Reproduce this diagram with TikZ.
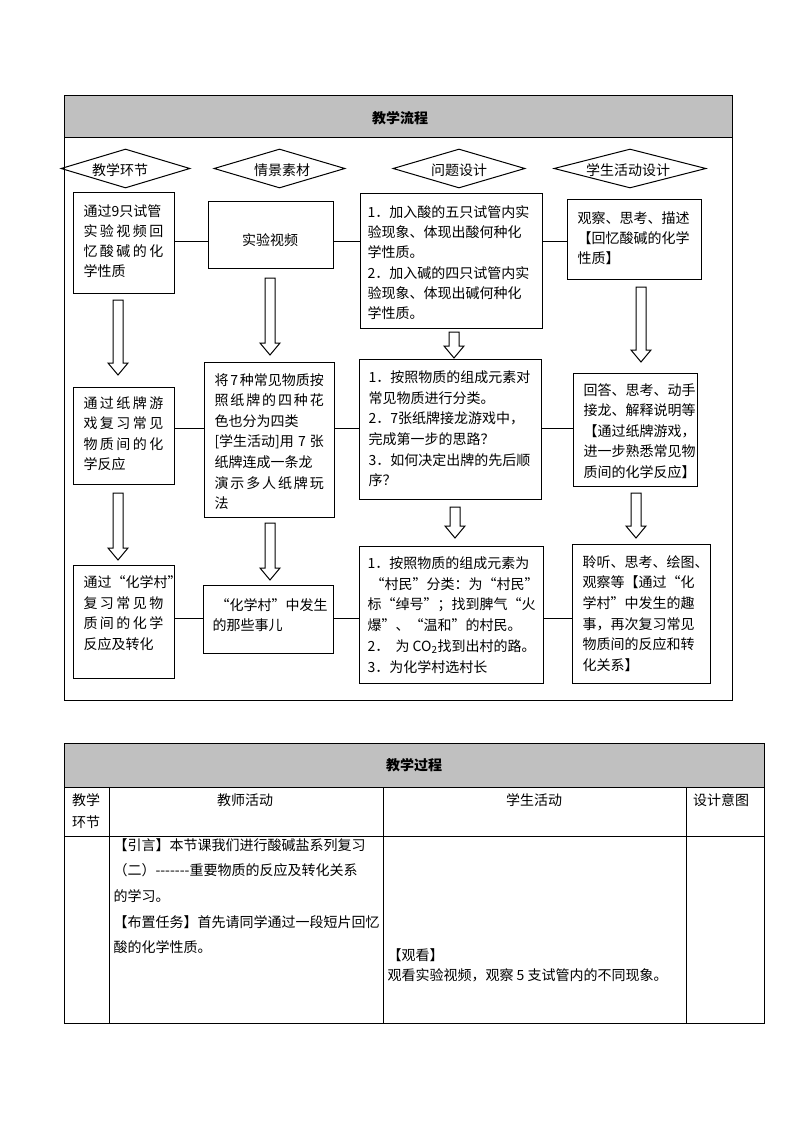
\documentclass[tikz,border=0pt]{standalone}
\usepackage{fontspec}
\setmainfont{Noto Sans CJK SC}[Ligatures=TeXOff]
\usetikzlibrary{fit,shapes.geometric}
\definecolor{hdr}{RGB}{192,192,192}
\newcommand\gp{\hfill}
\newcommand\harrow[3]{\draw[line join=miter] ({#1-5},#2) -- ({#1+5},#2) -- ({#1+5},{#3-12}) -- ({#1+10},{#3-12}) -- (#1,#3) -- ({#1-10},{#3-12}) -- ({#1-5},{#3-12}) -- cycle;}
\begin{document}
\begin{tikzpicture}[x=0.75pt,y=-0.75pt,line width=0.75pt,
  box/.style={draw,inner sep=0pt},
  txt/.style={inner sep=0pt,align=left,anchor=north west,font=\fontsize{10.5pt}{15.3pt}\selectfont},
  ctxt/.style={inner sep=0pt,align=center,font=\fontsize{10.5pt}{15.3pt}\selectfont},
  ttl/.style={inner sep=0pt,font=\fontsize{10.5pt}{13pt}\selectfont\bfseries},
  dia/.style={draw,diamond,inner sep=0pt,minimum height=29.25pt}]
\useasboundingbox (0,0) rectangle (794,1123);
% ---------- top frame ----------
\fill[hdr] (64,96) rectangle (732,138);
\draw (64,96) rectangle (732,700);
\draw (64,138) -- (732,138);
\node[ttl] (t1) at (400,118) {教学流程};
% diamonds
\node[dia,minimum width=96.75pt] (h1) at (125.5,168.5) {};
\node[dia,minimum width=98.25pt] (h2) at (279.5,168.5) {};
\node[dia,minimum width=99pt] (h3) at (459,168.5) {};
\node[dia,minimum width=114pt] (h4) at (630,168.5) {};
\node[ctxt] (h1t) at (120,170) {教学环节};
\node[ctxt] (h2t) at (282,170) {情景素材};
\node[ctxt] (h3t) at (459,170) {问题设计};
\node[ctxt] (h4t) at (628,170) {学生活动设计};
% row 1
\node[box,fit={(73,193) (174,293)}] (a1) {};
\node[box,fit={(208,202) (333,268)}] (b1) {};
\node[box,fit={(360,194) (542,328)}] (c1) {};
\node[box,fit={(567,200) (701,279)}] (d1) {};
\node[txt,font=\fontsize{10.5pt}{15pt}\selectfont] (a1t) at (83,204) {通过9只试管\\\makebox[60pt][s]{实\gp 验\gp 视\gp 频\gp 回}\\\makebox[60pt][s]{忆\gp 酸\gp 碱\gp 的\gp 化}\\学性质};
\node[ctxt] (b1t) at (270,240) {实验视频};
\node[txt,font=\fontsize{10.5pt}{15.2pt}\selectfont] (c1t) at (367,205) {1．加入酸的五只试管内实\\验现象、体现出酸何种化\\学性质。\\2．加入碱的四只试管内实\\验现象、体现出碱何种化\\学性质。};
\node[txt,font=\fontsize{10.5pt}{15pt}\selectfont] (d1t) at (577,211) {观察、思考、描述\\【回忆酸碱的化学\\性质】};
\coordinate (r1) at (0,241);
\draw (a1.east |- r1) -- (b1.west |- r1);
\draw (b1.east |- r1) -- (c1.west |- r1);
\draw (c1.east |- r1) -- (d1.west |- r1);
% arrows row1 -> row2
\harrow{118}{300}{375}
\harrow{270}{278}{355}
\harrow{454}{332}{358}
\harrow{641}{287}{362}
% row 2
\node[box,fit={(73,387) (174,484)}] (a2) {};
\node[box,fit={(204,362) (334,517)}] (b2) {};
\node[box,fit={(359,359) (541,499)}] (c2) {};
\node[box,fit={(573,373) (697,486)}] (d2) {};
\node[txt,font=\fontsize{10.5pt}{15.4pt}\selectfont] (a2t) at (83,396) {\makebox[60pt][s]{通\gp 过\gp 纸\gp 牌\gp 游}\\\makebox[60pt][s]{戏\gp 复\gp 习\gp 常\gp 见}\\\makebox[60pt][s]{物\gp 质\gp 间\gp 的\gp 化}\\学反应};
\node[txt,font=\fontsize{10.5pt}{15.4pt}\selectfont] (b2t) at (214,373) {\makebox[82pt][s]{将\gp 7\gp 种常见物质按}\\\makebox[82pt][s]{照\gp 纸\gp 牌\gp 的\gp 四\gp 种\gp 花}\\色也分为四类\\\makebox[82pt][s]{[学生活动]用\gp 7\gp 张}\\纸牌连成一条龙\\\makebox[82pt][s]{演\gp 示\gp 多\gp 人\gp 纸\gp 牌\gp 玩}\\法};
\node[txt,font=\fontsize{10.5pt}{15.5pt}\selectfont] (c2t) at (368,370) {1．按照物质的组成元素对\\常见物质进行分类。\\2．7张纸牌接龙游戏中，\\完成第一步的思路？\\3．如何决定出牌的先后顺\\序？};
\node[txt,font=\fontsize{10.5pt}{15.4pt}\selectfont] (d2t) at (583,383) {回答、思考、动手\\接龙、解释说明等\\【通过纸牌游戏，\\进一步熟悉常见物\\质间的化学反应】};
\coordinate (r2) at (0,428);
\draw (a2.east |- r2) -- (b2.west |- r2);
\draw (b2.east |- r2) -- (c2.west |- r2);
\draw (c2.east |- r2) -- (d2.west |- r2);
% arrows row2 -> row3
\harrow{118}{493}{560}
\harrow{270}{523}{580}
\harrow{455}{507}{538}
\harrow{636}{493}{538}
% row 3
\node[box,fit={(73,565) (174,678)}] (a3) {};
\node[box,fit={(203,585) (333,653)}] (b3) {};
\node[box,fit={(359,546) (543,683)}] (c3) {};
\node[box,fit={(572,544) (710,683)}] (d3) {};
\node[txt,font=\fontsize{10.5pt}{15.5pt}\selectfont] (a3t) at (83,575) {通过“化学村”\\\makebox[60pt][s]{复\gp 习\gp 常\gp 见\gp 物}\\\makebox[60pt][s]{质\gp 间\gp 的\gp 化\gp 学}\\反应及转化};
\node[txt,font=\fontsize{10.5pt}{15pt}\selectfont] (b3t) at (212,598) {~“化学村”中发生\\的那些事儿};
\node[txt,font=\fontsize{10.5pt}{15.6pt}\selectfont] (c3t) at (367,556) {1．按照物质的组成元素为\\~“村民”分类：为“村民”\\标“绰号”；找到脾气“火\\爆”、“温和”的村民。\\2．~~为 CO\textsubscript{2}找到出村的路。\\3．为化学村选村长};
\node[txt,font=\fontsize{10.5pt}{15.5pt}\selectfont] (d3t) at (582,555) {聆听、思考、绘图、\\观察等【通过“化\\学村”中发生的趣\\事，再次复习常见\\物质间的反应和转\\化关系】};
\coordinate (r3) at (0,618);
\draw (a3.east |- r3) -- (b3.west |- r3);
\draw (b3.east |- r3) -- (c3.west |- r3);
\draw (c3.east |- r3) -- (d3.west |- r3);
% ---------- second table ----------
\fill[hdr] (64,743) rectangle (764,787);
\draw (64,743) rectangle (764,1023);
\draw (64,787) -- (764,787);
\draw (64,836) -- (764,836);
\foreach \cx in {109,383,686} \draw (\cx,787) -- (\cx,1023);
\node[ttl] (t2) at (414,765) {教学过程};
\node[ctxt,font=\fontsize{10.5pt}{16.5pt}\selectfont] (k1) at (86,811) {教学\\环节};
\node[ctxt] (k2) at (245,800) {教师活动};
\node[ctxt] (k3) at (534,800) {学生活动};
\node[ctxt] (k4) at (721,800) {设计意图};
\node[txt,font=\fontsize{10.5pt}{19.2pt}\selectfont] (tea) at (113,838) {【引言】本节课我们进行酸碱盐系列复习\\（二）-------重要物质的反应及转化关系\\的学习。\\【布置任务】首先请同学通过一段短片回忆\\酸的化学性质。};
\node[txt,font=\fontsize{10.5pt}{15pt}\selectfont] (stu) at (387,948) {【观看】\\观看实验视频，观察 5 支试管内的不同现象。};
\end{tikzpicture}
\end{document}
